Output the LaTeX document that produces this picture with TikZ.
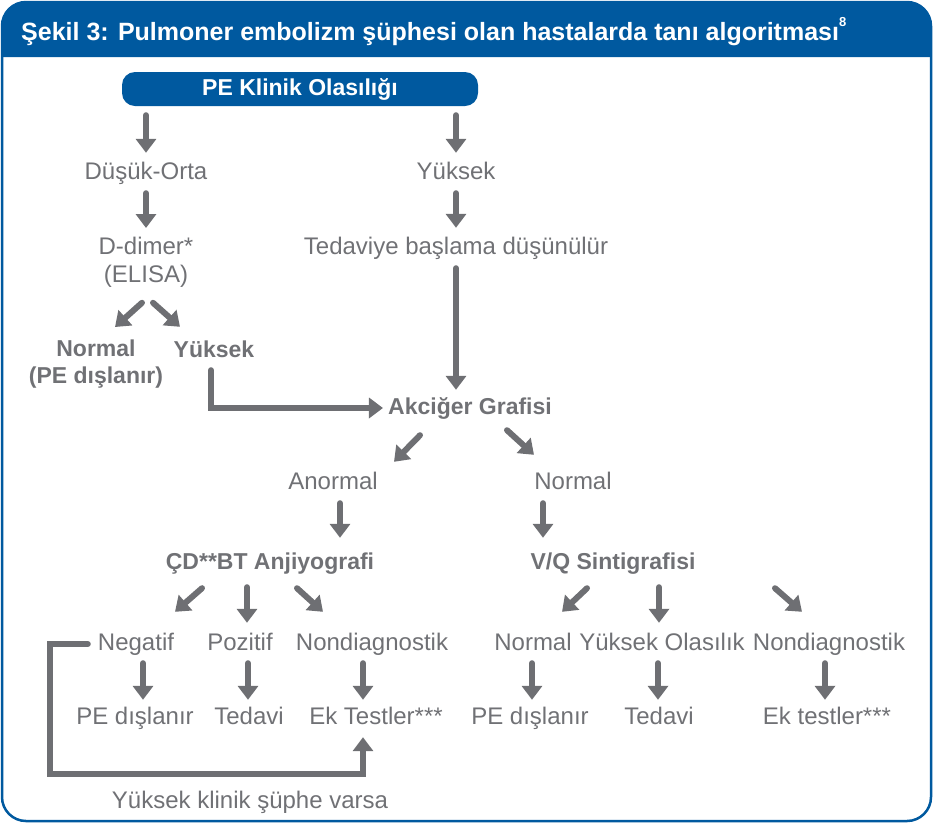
\documentclass[tikz,border=0pt]{standalone}
\usepackage{fontspec}
\setmainfont{Liberation Sans}
\usetikzlibrary{arrows.meta}

\definecolor{pblue}{RGB}{0,89,159}
\definecolor{tgray}{RGB}{112,113,117}
\definecolor{agray}{RGB}{110,111,115}

\begin{document}
\begin{tikzpicture}[
     x = 1pt, y = -1pt,
     txt/.style = {text=tgray, font=\fontsize{24}{28}\selectfont, inner sep=0pt,
                   text height=17pt, text depth=5pt, anchor=base},
     btxt/.style = {txt, font=\fontsize{23}{27}\selectfont\bfseries},
     two/.style = {text=tgray, inner sep=0pt, align=center, anchor=north},
     arr/.style = {draw=agray, line width=6pt, line cap=round,
                   -{Triangle[width=20pt,length=14pt]}}
    ]
    \useasboundingbox (0,0) rectangle (933,823);

    % frame and title band
    \fill[pblue] (2,57) {[rounded corners=24pt] -- (2,2) -- (931,2)} -- (931,57) -- cycle;
    \draw[pblue, line width=2.5pt, rounded corners=24pt] (2,2) rectangle (931,821);
    \node[anchor=base west, text=white, inner sep=0pt,
          font=\fontsize{25}{30}\selectfont\bfseries] (titel) at (21,40)
      {Şekil 3: Pulmoner embolizm şüphesi olan hastalarda tanı algoritması\raisebox{14pt}{\fontsize{13}{13}\selectfont 8}};

    \node[fill=pblue, rounded corners=13pt, minimum width=356pt, minimum height=34pt,
          text=white, inner sep=0pt, font=\fontsize{23}{27}\selectfont\bfseries]
      (klinik) at (300,89) {PE Klinik Olasılığı};

    \node[txt] (dusuk) at (146,179) {Düşük-Orta};
    \node[txt] (yuksek) at (456,179) {Yüksek};
    \node[two, font=\fontsize{24}{28}\selectfont] (ddimer) at (146,237) {D-dimer*\\(ELISA)};
    \node[txt] (tedaviye) at (456,254) {Tedaviye başlama düşünülür};
    \node[two, font=\fontsize{23}{27}\selectfont\bfseries] (ddnormal) at (96,340) {Normal\\(PE dışlanır)};
    \node[btxt] (ddyuksek) at (214,357) {Yüksek};
    \node[btxt] (akciger) at (470,414) {Akciğer Grafisi};
    \node[txt] (anormal) at (333,489) {Anormal};
    \node[txt] (axnormal) at (573,489) {Normal};
    \node[btxt] (cdbt) at (270,569) {ÇD**BT Anjiyografi};
    \node[btxt] (vq) at (613,569) {V/Q Sintigrafisi};

    \node[txt] (negatif) at (136,650) {Negatif};
    \node[txt] (pozitif) at (240,650) {Pozitif};
    \node[txt] (nondiagA) at (372,650) {Nondiagnostik};
    \node[txt] (vqnormal) at (533,650) {Normal};
    \node[txt] (yolasilik) at (662,650) {Yüksek Olasılık};
    \node[txt] (nondiagB) at (829,650) {Nondiagnostik};

    \node[txt] (pedisA) at (135,724) {PE dışlanır};
    \node[txt] (tedaviA) at (249,724) {Tedavi};
    \node[txt] (ektestA) at (376,724) {Ek Testler***};
    \node[txt] (pedisB) at (530,724) {PE dışlanır};
    \node[txt] (tedaviB) at (659,724) {Tedavi};
    \node[txt] (ektestB) at (827,724) {Ek testler***};

    \node[txt] (kosul) at (250,808) {Yüksek klinik şüphe varsa};

    % straight down
    \draw[arr, shorten <=9pt, shorten >=9pt] (klinik.south -| dusuk) -- (dusuk.north);
    \draw[arr, shorten <=9pt, shorten >=9pt] (klinik.south -| yuksek) -- (yuksek.north);
    \draw[arr, shorten <=9pt, shorten >=9pt] (dusuk.south) -- (dusuk.south |- ddimer.north);
    \draw[arr, shorten <=9pt, shorten >=9pt] (yuksek.south) -- (tedaviye.north);
    \draw[arr, shorten <=9pt, shorten >=7pt] (tedaviye.south) -- (tedaviye.south |- akciger.north);
    \draw[arr, shorten <=9pt, shorten >=14pt] ([xshift=7pt]anormal.south) -- ([xshift=7pt]anormal.south |- cdbt.north);
    \draw[arr, shorten <=9pt, shorten >=14pt] ([xshift=-30pt]axnormal.south) -- ([xshift=-30pt]axnormal.south |- vq.north);
    \foreach \a/\b/\dx in {negatif/pedisA/7, pozitif/tedaviA/8, nondiagA/ektestA/-9,
                           vqnormal/pedisB/-1, yolasilik/tedaviB/-4, nondiagB/ektestB/-4}
      \draw[arr, shorten <=8pt, shorten >=7pt] ([xshift=\dx pt]\a.south) -- ([xshift=\dx pt]\a.south |- \b.north);

    % branches
    \draw[arr] ([shift={(-4pt,-15pt)}]ddimer.south) -- ([shift={(19pt,13pt)}]ddnormal.north);
    \draw[arr] ([shift={(7pt,-15pt)}]ddimer.south) -- ([shift={(-34pt,13pt)}]ddyuksek.north);
    \draw[arr] ([shift={(-50pt,-16pt)}]akciger.south) -- ([shift={(61pt,10pt)}]anormal.north);
    \draw[arr] ([shift={(37pt,-11pt)}]akciger.south) -- ([shift={(-39pt,17pt)}]axnormal.north);
    \draw[arr] ([shift={(-68pt,-14pt)}]cdbt.south) -- ([shift={(39pt,21pt)}]negatif.north);
    \draw[arr] ([shift={(-23pt,-13pt)}]cdbt.south) -- ([shift={(7pt,10pt)}]pozitif.north);
    \draw[arr] ([shift={(27pt,-14pt)}]cdbt.south) -- ([shift={(-49pt,21pt)}]nondiagA.north);
    \draw[arr] ([shift={(-26pt,-14pt)}]vq.south) -- ([shift={(29pt,21pt)}]vqnormal.north);
    \draw[arr] ([shift={(46pt,-13pt)}]vq.south) -- ([shift={(-3pt,10pt)}]yolasilik.north);
    \draw[arr] ([shift={(162pt,-14pt)}]vq.south) -- ([shift={(-27pt,21pt)}]nondiagB.north);

    % elbows
    \draw[arr] ([shift={(-3pt,-8pt)}]ddyuksek.south) |- ([xshift=-5pt]akciger.west);
    \draw[arr] ([xshift=-10pt]negatif.west) -- ++(-38,0)
      |- ([xshift=-13pt,yshift=17pt]kosul.north -| ektestA.south)
      -- ([shift={(-13pt,-8pt)}]ektestA.south);

   \end{tikzpicture}
\end{document}
